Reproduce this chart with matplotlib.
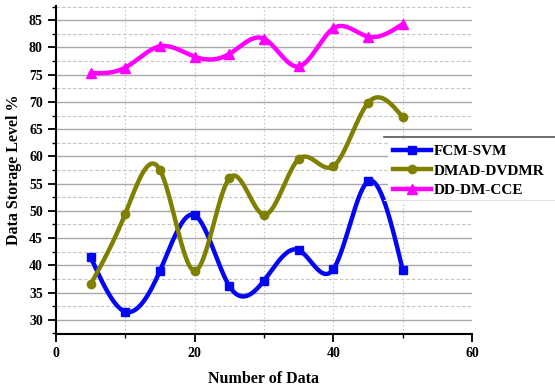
import numpy as np
import matplotlib
matplotlib.use("Agg")
import matplotlib.pyplot as plt
from matplotlib.lines import Line2D
from matplotlib.ticker import MultipleLocator

plt.rcParams['font.family'] = ['Liberation Serif', 'DejaVu Serif']
plt.rcParams['font.weight'] = 'bold'

# Number of data items
x_vals = [5, 10, 15, 20, 25, 30, 35, 40, 45, 50]

# Data storage level (%) per method
fcm_svm = [41.5, 31.5, 39.0, 49.2, 36.2, 37.2, 42.8, 39.3, 55.4, 39.2]
dmad_dvdmr = [36.5, 49.5, 57.5, 39.0, 56.0, 49.3, 59.5, 58.2, 69.8, 67.2]
dd_dm_cce = [75.3, 76.3, 80.2, 78.3, 78.8, 81.6, 76.5, 83.5, 82.0, 84.3]

series_names = ["FCM-SVM", "DMAD-DVDMR", "DD-DM-CCE"]


def natural_spline(x, y, num=400):
    """Natural cubic spline through the given points."""
    x = np.asarray(x, float)
    y = np.asarray(y, float)
    n = len(x)
    h = np.diff(x)
    A = np.zeros((n, n))
    b = np.zeros(n)
    A[0, 0] = 1
    A[-1, -1] = 1
    for i in range(1, n - 1):
        A[i, i - 1] = h[i - 1]
        A[i, i] = 2 * (h[i - 1] + h[i])
        A[i, i + 1] = h[i]
        b[i] = 3 * ((y[i + 1] - y[i]) / h[i] - (y[i] - y[i - 1]) / h[i - 1])
    c = np.linalg.solve(A, b)
    xs = np.linspace(x[0], x[-1], num)
    idx = np.clip(np.searchsorted(x, xs) - 1, 0, n - 2)
    dx = xs - x[idx]
    bi = (y[idx + 1] - y[idx]) / h[idx] - h[idx] * (2 * c[idx] + c[idx + 1]) / 3
    di = (c[idx + 1] - c[idx]) / (3 * h[idx])
    ys = y[idx] + bi * dx + c[idx] * dx ** 2 + di * dx ** 3
    return xs, ys


fig = plt.figure(figsize=(5.55, 3.87), dpi=100)
ax = fig.add_axes([56 / 555, 1 - 334 / 387, (472 - 56) / 555, (334 - 6) / 387])

styles = [
    (fcm_svm, "#0505f5", "s", 6),
    (dmad_dvdmr, "#808000", "o", 6),
    (dd_dm_cce, "#ff00ff", "^", 7),
]

handles = []
for (vals, color, marker, ms), name in zip(styles, series_names):
    xs, ys = natural_spline(x_vals, vals)
    ax.plot(xs, ys, color=color, lw=3.2, solid_capstyle='round', zorder=3)
    ax.plot(x_vals, vals, linestyle='none', marker=marker, ms=ms,
            color=color, zorder=4)
    handles.append(Line2D([], [], color=color, lw=3.2, marker=marker,
                          ms=ms, label=name))

ax.set_xlim(0, 60)
ax.set_ylim(27.4, 87.6)
ax.xaxis.set_major_locator(MultipleLocator(20))
ax.xaxis.set_minor_locator(MultipleLocator(10))
ax.yaxis.set_major_locator(MultipleLocator(5))
ax.yaxis.set_minor_locator(MultipleLocator(2.5))
ax.set_yticks(np.arange(30, 86, 5))

ax.grid(which='major', axis='y', color='#a8a8a8', lw=1.0, ls='-', zorder=0)
ax.grid(which='minor', axis='y', color='#c4c4c4', lw=0.8, ls=(0, (3, 2)), zorder=0)
for xv in range(10, 60, 10):
    ax.axvline(xv, color='#c8c8c8', lw=0.8, ls=(0, (1.5, 2)), zorder=0)

for side in ('top', 'right'):
    ax.spines[side].set_visible(False)
ax.spines['left'].set_linewidth(1.5)
ax.spines['bottom'].set_linewidth(1.5)
ax.tick_params(axis='both', which='major', direction='out', length=6,
               width=1.3, labelsize=10)
ax.tick_params(axis='both', which='minor', direction='out', length=3,
               width=1.0)
for lbl in ax.get_xticklabels() + ax.get_yticklabels():
    lbl.set_fontweight('bold')

ax.set_xlabel("Number of Data", fontsize=11.5, fontweight='bold', labelpad=8)
ax.set_ylabel("Data Storage Level %", fontsize=11.5, fontweight='bold', labelpad=5)

leg = fig.legend(handles=handles, loc='upper left',
                 bbox_to_anchor=(388 / 555, 1 - 140 / 387),
                 fontsize=11, frameon=True, fancybox=False,
                 handlelength=2.5, handletextpad=0.2, labelspacing=0.38,
                 borderpad=0.3, borderaxespad=0)
leg.get_frame().set_edgecolor('none')
leg.get_frame().set_facecolor('white')
leg.get_frame().set_alpha(1)
leg.set_zorder(10)
for t in leg.get_texts():
    t.set_fontweight('bold')

fig.add_artist(Line2D([384 / 555, 1], [1 - 137 / 387, 1 - 137 / 387],
                      color='#555555', lw=1.2, zorder=11))
fig.add_artist(Line2D([384 / 555, 1], [1 - 200 / 387, 1 - 200 / 387],
                      color='#e0e0e0', lw=0.8, zorder=11))

fig.savefig("out.png", dpi=100)
